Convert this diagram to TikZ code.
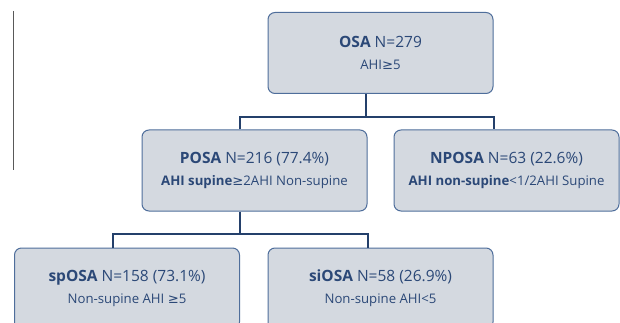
\documentclass[tikz,border=0pt]{standalone}
\usepackage{fontspec}
\setmainfont{Open Sans}
\newfontfamily\symfont{DejaVu Sans}
\usetikzlibrary{positioning}
\definecolor{boxfill}{HTML}{D4D9E0}
\definecolor{boxline}{HTML}{4F6E9B}
\definecolor{boxtext}{HTML}{2B4877}
\definecolor{linkcol}{HTML}{24406B}
\tikzset{
    group/.style={draw=boxline, fill=boxfill, line width=1pt, rounded corners=7pt,
        minimum width=225pt, minimum height=81pt, align=center, text=boxtext,
        font=\fontsize{15.5}{22}\selectfont},
    link/.style={draw=linkcol, line width=2pt},
}
\newcommand{\sub}[1]{{\fontsize{13.2}{16}\selectfont #1}}
\newcommand{\atleast}{{\symfont ≥}}

\begin{document}
\begin{tikzpicture}[x=1pt, y=-1pt]
\useasboundingbox (0,0) rectangle (620,323);
\draw [gray!70!black, line width=1.4pt] (13.5,11) -- (13.5,170);

\node[group] (osa) at (380.5,53) {\textbf{OSA} N=279\\ \sub{AHI\atleast5}};
\node[group] (posa) at (254.5,170.5) {\textbf{POSA} N=216 (77.4\%)\\ \sub{\textbf{AHI supine}\atleast2AHI Non-supine}};
\node[group] (nposa) at (506.5,170.5) {\textbf{NPOSA} N=63 (22.6\%)\\ \sub{\textbf{AHI non-supine}<1/2AHI Supine}};
\node[group] (sposa) at (127,288.5) {\textbf{spOSA} N=158 (73.1\%)\\ \sub{Non-supine AHI \atleast5}};
\node[group] (siosa) at (380.5,288.5) {\textbf{siOSA} N=58 (26.9\%)\\ \sub{Non-supine AHI<5}};

% osa -> posa / nposa
\coordinate (split1) at (366,117);
\draw[link] (split1 |- osa.south) -- (split1);
\draw[link] (posa.north -| sposa.east) |- (split1) -| (nposa.north -| osa.east);

% posa -> sposa / siosa
\coordinate (split2) at (239.5,234);
\draw[link] (split2 |- posa.south) -- (split2);
\draw[link] (sposa.north -| 113,0) |- (split2) -| (siosa.north -| posa.east);
\end{tikzpicture}
\end{document}
